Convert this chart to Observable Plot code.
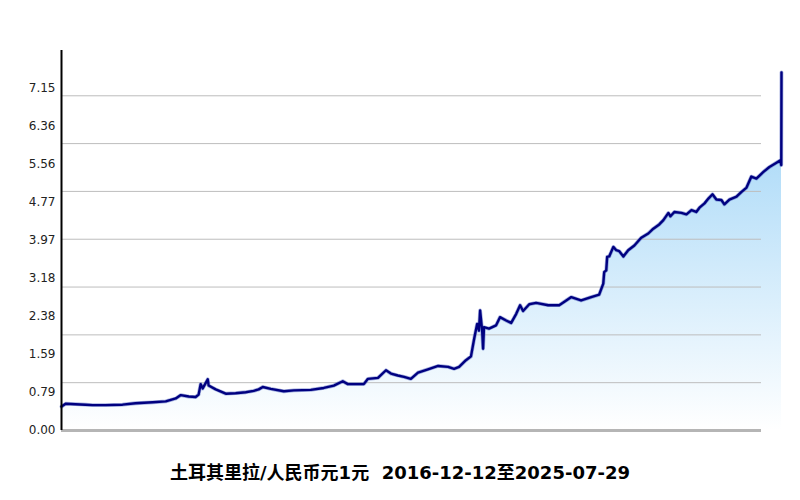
<!DOCTYPE html>
<html>
<head>
<meta charset="utf-8">
<script src="https://cdn.jsdelivr.net/npm/d3@7"></script>
<script src="https://cdn.jsdelivr.net/npm/@observablehq/plot@0.6"></script>
<style>
  html, body { margin: 0; padding: 0; background: #fff; }
  #chart { width: 800px; height: 450px; }
  #title { width: 800px; height: 50px; line-height: 46px; text-align: center; white-space: pre;
    font-family: "DejaVu Sans", "Noto Sans CJK SC", sans-serif; font-weight: bold; font-size: 18px; color: #000; }
</style>
</head>
<body>
<div id="chart"></div>
<div id="title">土耳其里拉/人民币元1元  2016-12-12至2025-07-29</div>
<script>
const dates = [
  "2016-12-12","2016-12-30","2017-02-11","2017-03-27","2017-04-27","2017-06-23","2017-09-05","2017-11-01",
  "2018-01-15","2018-03-13","2018-04-26","2018-05-18","2018-06-22","2018-07-22","2018-08-04","2018-08-13",
  "2018-08-22","2018-09-13","2018-09-17","2018-10-18","2018-12-01","2019-01-13","2019-02-26","2019-04-02",
  "2019-04-24","2019-05-12","2019-06-16","2019-08-12","2019-09-25","2019-12-08","2020-02-03","2020-03-18",
  "2020-04-26","2020-05-18","2020-07-27","2020-08-14","2020-09-27","2020-11-01","2020-11-23","2020-12-23",
  "2021-01-19","2021-02-18","2021-03-21","2021-05-04","2021-06-17","2021-07-31","2021-08-26","2021-09-17",
  "2021-10-17","2021-11-08","2021-11-22","2021-12-05","2021-12-13","2021-12-18","2021-12-27","2021-12-31",
  "2022-01-04","2022-01-26","2022-02-26","2022-03-15","2022-04-11","2022-05-03","2022-05-25","2022-06-11",
  "2022-06-24","2022-07-21","2022-08-20","2022-10-12","2022-11-29","2022-12-30","2023-01-21","2023-03-05",
  "2023-04-18","2023-05-23","2023-06-10","2023-06-14","2023-06-23","2023-06-27","2023-07-06","2023-07-24",
  "2023-08-06","2023-08-19","2023-09-06","2023-09-27","2023-10-24","2023-11-23","2023-12-24","2024-01-15",
  "2024-02-10","2024-02-28","2024-03-21","2024-03-30","2024-04-16","2024-05-17","2024-06-08","2024-06-30",
  "2024-07-21","2024-08-04","2024-08-26","2024-09-12","2024-09-30","2024-10-17","2024-11-08","2024-11-21",
  "2024-12-13","2025-01-13","2025-02-04","2025-02-26","2025-03-19","2025-04-10","2025-05-11","2025-06-06",
  "2025-07-07","2025-07-24","2025-07-28","2025-07-29"
];
const rates = [
  0.50,0.56,0.55,0.54,0.53,0.53,0.54,0.57,
  0.59,0.61,0.67,0.74,0.71,0.70,0.75,0.97,
  0.88,1.07,0.94,0.86,0.77,0.78,0.80,0.83,
  0.86,0.91,0.87,0.82,0.84,0.85,0.89,0.94,
  1.03,0.97,0.97,1.08,1.10,1.26,1.19,1.15,
  1.12,1.08,1.21,1.28,1.35,1.33,1.29,1.33,
  1.47,1.55,1.92,2.23,2.09,2.51,2.09,1.71,
  2.16,2.13,2.20,2.37,2.30,2.25,2.44,2.62,
  2.50,2.64,2.67,2.62,2.62,2.72,2.79,2.72,
  2.79,2.84,3.07,3.31,3.35,3.63,3.64,3.84,
  3.77,3.75,3.64,3.77,3.87,4.03,4.12,4.22,
  4.31,4.40,4.55,4.48,4.57,4.55,4.52,4.61,
  4.57,4.66,4.75,4.85,4.94,4.83,4.82,4.73,
  4.83,4.89,4.99,5.08,5.31,5.27,5.41,5.51,
  5.60,5.65,5.55,7.49
];
const yMax = 7.947;
const yTickLabels = ["0.00","0.79","1.59","2.38","3.18","3.97","4.77","5.56","6.36","7.15"];
const gridValues = [1, 2, 3, 4, 5, 6, 7];
const startDate = "2016-12-12";
const endDate = "2025-07-29";

const parse = d3.utcParse("%Y-%m-%d");
const data = dates.map((d, i) => ({date: parse(d), rate: rates[i]}));
const yTicks = yTickLabels.map((_, i) => i * yMax / 10);

const plot = Plot.plot({
  width: 800,
  height: 450,
  marginLeft: 61,
  marginRight: 19,
  marginTop: 50,
  marginBottom: 20,
  style: {fontFamily: "DejaVu Sans, sans-serif", fontSize: "12px", color: "#222", background: "#fff"},
  x: {type: "utc", domain: [parse(startDate), parse(endDate)], axis: null},
  y: {domain: [0, yMax], axis: null, label: null},
  marks: [
    Plot.areaY(data, {x: "date", y: "rate", fill: "url(#areaGrad)", curve: "linear"}),
    Plot.ruleY(gridValues, {stroke: "#bdbdbd", strokeWidth: 1, insetRight: 20}),
    Plot.ruleY([0], {stroke: "#b5b5b5", strokeWidth: 3, insetRight: 20}),
    Plot.line(data, {x: "date", y: "rate", stroke: "#3a4fb8", strokeWidth: 3.8, strokeOpacity: 0.45}),
    Plot.line(data, {x: "date", y: "rate", stroke: "#000080", strokeWidth: 2.4}),
    Plot.ruleX([parse(startDate)], {stroke: "#000", strokeWidth: 2}),
    Plot.axisY({ticks: yTicks, tickFormat: (d, i) => yTickLabels[i], tickSize: 0, tickPadding: 6, fontSize: 12, fill: "#222", label: null})
  ]
});

const yScale = plot.scale("y");
const ns = "http://www.w3.org/2000/svg";
const defs = document.createElementNS(ns, "defs");
const grad = document.createElementNS(ns, "linearGradient");
grad.setAttribute("id", "areaGrad");
grad.setAttribute("gradientUnits", "userSpaceOnUse");
grad.setAttribute("x1", "0"); grad.setAttribute("x2", "0");
grad.setAttribute("y1", String(yScale.apply(yMax)));
grad.setAttribute("y2", String(yScale.apply(0)));
[["0", "#93cff6"], ["1", "#ffffff"]].forEach(([o, c]) => {
  const s = document.createElementNS(ns, "stop");
  s.setAttribute("offset", o); s.setAttribute("stop-color", c);
  grad.appendChild(s);
});
defs.appendChild(grad);
plot.insertBefore(defs, plot.firstChild);
document.getElementById("chart").appendChild(plot);
</script>
</body>
</html>
